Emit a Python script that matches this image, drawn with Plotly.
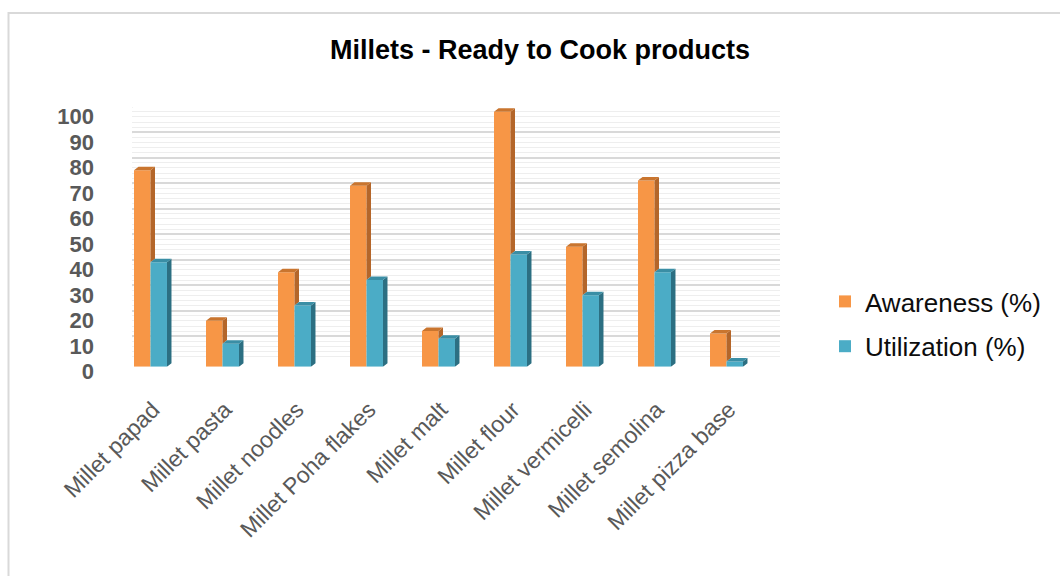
import plotly.graph_objects as go

# ---- data ----
categories = ["Millet papad", "Millet pasta", "Millet noodles", "Millet Poha flakes",
              "Millet malt", "Millet flour", "Millet vermicelli", "Millet semolina",
              "Millet pizza base"]
awareness = [77, 18, 37, 71, 14, 100, 47, 73, 13]
utilization = [41, 9, 24, 34, 11, 44, 28, 37, 2]
y_ticks = list(range(0, 101, 10))

# ---- page geometry (pixels) ----
W, H = 1060, 576


def px(x):
    return x / W


def py(y):
    return 1 - y / H


# colours
ORANGE, ORANGE_SIDE, ORANGE_TOP = "#F79646", "#B4662A", "#C9752F"
TEAL, TEAL_SIDE, TEAL_TOP = "#4BACC6", "#2C6F82", "#3A8EA5"
GRID_MAJOR, GRID_MINOR = "#d9d9d9", "#eeeeee"

BAR_W = 0.229      # width of one column in category units
DX = 0.0625        # depth offset of the 3-D faces (x units)
DY = 1.37          # depth offset of the 3-D faces (y units)

n = len(categories)
xs = list(range(n))

fig = go.Figure()

# front faces
fig.add_trace(go.Bar(x=xs, y=awareness, name="Awareness (%)", marker_color=ORANGE,
                     marker_line_width=0, offset=-BAR_W, width=BAR_W,
                     xaxis="x3", yaxis="y3", legendgroup="a", hoverinfo="y"))
fig.add_trace(go.Bar(x=xs, y=utilization, name="Utilization (%)", marker_color=TEAL,
                     marker_line_width=0, offset=0, width=BAR_W,
                     xaxis="x3", yaxis="y3", legendgroup="u", hoverinfo="y"))


def faces(x_right, bottoms, tops):
    """Side and top faces of columns whose right edges sit at x_right."""
    sx, sy, tx, ty = [], [], [], []
    for xr, b, t in zip(x_right, bottoms, tops):
        if t > b:
            sx += [xr, xr + DX, xr + DX, xr, xr, None]
            sy += [b, b + DY, t + DY, t, b, None]
        xl = xr - BAR_W
        tx += [xl, xl + DX, xr + DX, xr, xl, None]
        ty += [t, t + DY, t + DY, t, t, None]
    return sx, sy, tx, ty


# orange faces: the lower part of the side is hidden behind the teal column
sx, sy, tx, ty = faces(xs, utilization, awareness)
fig.add_trace(go.Scatter(x=sx, y=sy, fill="toself", fillcolor=ORANGE_SIDE, mode="lines",
                         line=dict(width=0), xaxis="x3", yaxis="y3", showlegend=False,
                         hoverinfo="skip"))
fig.add_trace(go.Scatter(x=tx, y=ty, fill="toself", fillcolor=ORANGE_TOP, mode="lines",
                         line=dict(width=0), xaxis="x3", yaxis="y3", showlegend=False,
                         hoverinfo="skip"))

# teal faces
sx, sy, tx, ty = faces([x + BAR_W for x in xs], [0] * n, utilization)
fig.add_trace(go.Scatter(x=sx, y=sy, fill="toself", fillcolor=TEAL_SIDE, mode="lines",
                         line=dict(width=0), xaxis="x3", yaxis="y3", showlegend=False,
                         hoverinfo="skip"))
fig.add_trace(go.Scatter(x=tx, y=ty, fill="toself", fillcolor=TEAL_TOP, mode="lines",
                         line=dict(width=0), xaxis="x3", yaxis="y3", showlegend=False,
                         hoverinfo="skip"))

# invisible anchors so the label and wall axes are drawn
fig.add_trace(go.Scatter(x=[None], y=[None], xaxis="x", yaxis="y", showlegend=False))
fig.add_trace(go.Scatter(x=[None], y=[None], xaxis="x2", yaxis="y2", showlegend=False))

axis_off = dict(showgrid=False, zeroline=False, showticklabels=False, showline=False,
                ticks="", fixedrange=True, automargin=False)

fig.update_layout(
    width=W, height=H,
    margin=dict(l=0, r=0, t=0, b=0, autoexpand=False),
    paper_bgcolor="white",
    plot_bgcolor="rgba(0,0,0,0)",
    barmode="overlay",
    title=dict(text="<b>Millets - Ready to Cook products</b>",
               x=px(540), xanchor="center", y=py(50), yanchor="middle",
               font=dict(family="Liberation Sans, Arial", size=27, color="#000000")),
    # axes carrying the tick labels (front edge of the floor / side wall)
    xaxis=dict(domain=[px(117), px(765)], range=[-0.5, n - 0.5],
               tickmode="array", tickvals=xs, ticktext=categories, tickangle=-45,
               ticklabelstandoff=19,
               tickfont=dict(family="Liberation Sans, Arial", size=23, color="#595959"),
               showgrid=False, zeroline=False, showline=False, ticks="",
               anchor="y", fixedrange=True, automargin=False),
    yaxis=dict(domain=[py(371.7), py(116.7)], range=[0, 100],
               tickmode="array", tickvals=y_ticks, ticklabelstandoff=22,
               tickfont=dict(family="Liberation Sans, Arial", size=22, color="#595959",
                             weight="bold"),
               showgrid=False, zeroline=False, showline=False, ticks="",
               anchor="x", fixedrange=True, automargin=False),
    # back wall with its gridlines
    xaxis2=dict(domain=[px(132), px(780)], range=[-0.5, n - 0.5], anchor="y2", **axis_off),
    yaxis2=dict(domain=[py(361.7), py(106.7)], range=[0, 100], anchor="x2",
                tick0=0, dtick=10, showgrid=True, gridcolor=GRID_MAJOR, gridwidth=2,
                minor=dict(dtick=2, showgrid=True, gridcolor=GRID_MINOR, gridwidth=1),
                zeroline=False, showticklabels=False, showline=False, ticks="",
                fixedrange=True, automargin=False),
    # columns
    xaxis3=dict(domain=[px(114.5), px(762.5)], range=[-0.5, n - 0.5], anchor="y3",
                **axis_off),
    yaxis3=dict(domain=[py(366.7), py(86.2)], range=[0, 110], anchor="x3", **axis_off),
    legend=dict(x=px(825), y=py(278), xanchor="left", yanchor="top",
                font=dict(family="Liberation Sans, Arial", size=26, color="#0d0d0d"),
                tracegroupgap=8, bgcolor="rgba(0,0,0,0)", itemclick=False,
                itemdoubleclick=False),
)

# side-wall lines running from the back wall to the front edge
shapes = []
for v in range(0, 101, 2):
    major = v % 10 == 0
    shapes.append(dict(type="line", xref="x2", yref="y2",
                       xsizemode="pixel", xanchor=-0.5, x0=0, x1=-15,
                       ysizemode="pixel", yanchor=v, y0=0, y1=-10,
                       line=dict(color=GRID_MAJOR if major else GRID_MINOR,
                                 width=2 if major else 1),
                       layer="below"))
# chart frame
shapes.append(dict(type="rect", xref="paper", yref="paper",
                   x0=px(8.5), x1=px(1075), y0=py(590), y1=py(13),
                   line=dict(color="#d9d9d9", width=2), fillcolor="rgba(0,0,0,0)",
                   layer="below"))
fig.update_layout(shapes=shapes)

fig.write_html("out.html")
